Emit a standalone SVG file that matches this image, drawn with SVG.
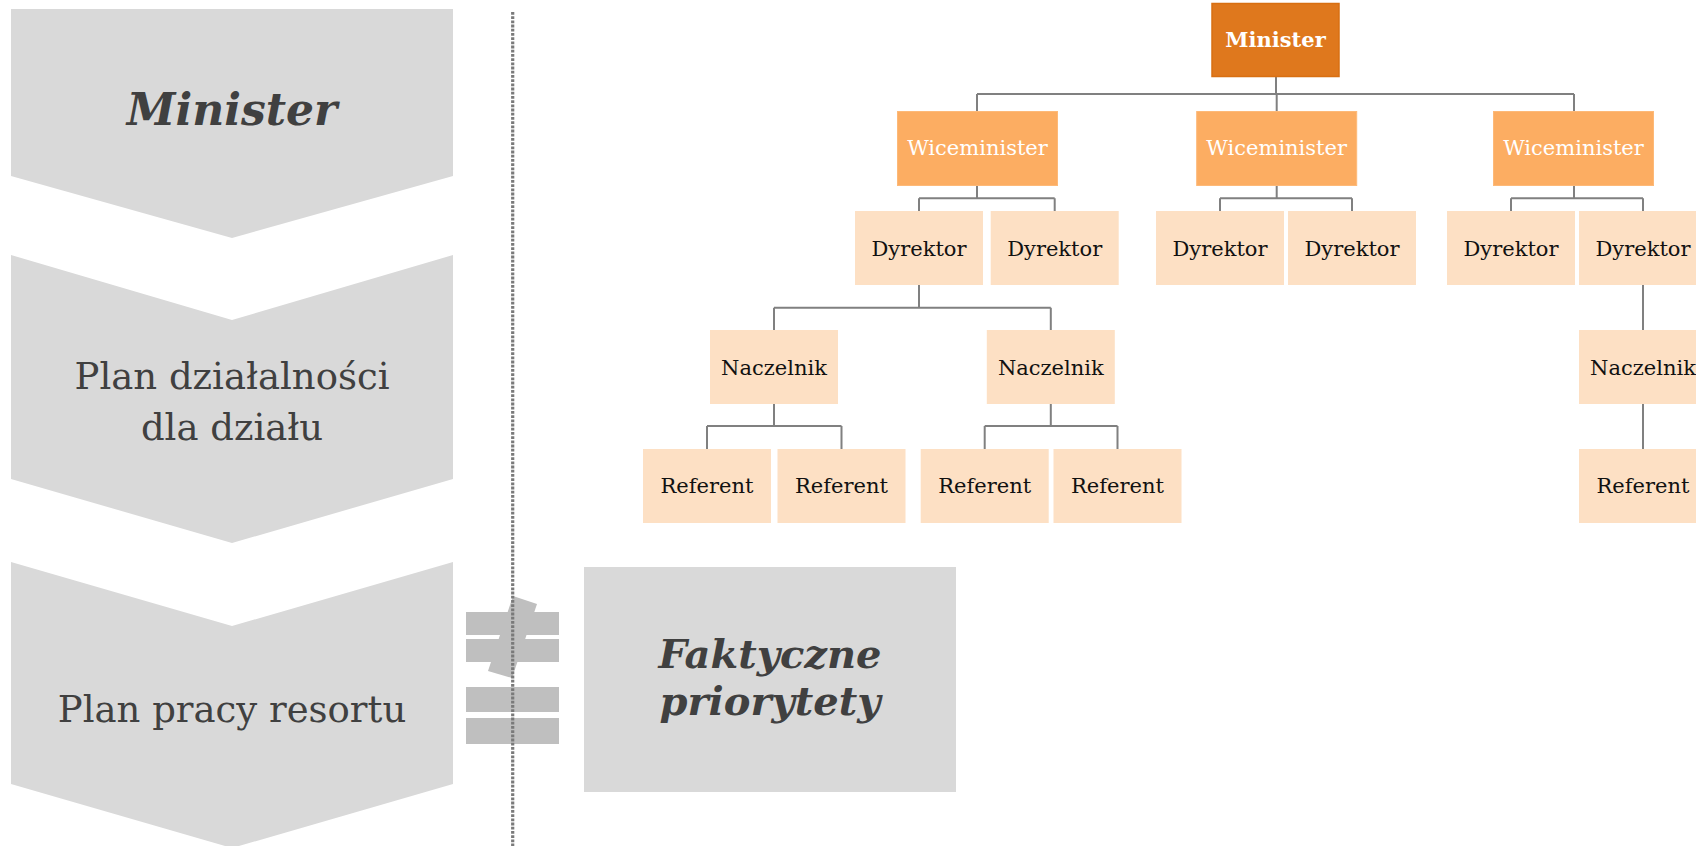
<svg xmlns="http://www.w3.org/2000/svg" width="1696" height="846" viewBox="0 0 1696 846">
  <style>
    .chev { fill: #d9d9d9; }
    .big { font-family: "DejaVu Serif", "Liberation Serif", serif; fill: #404040; text-anchor: middle; }
    .bi { font-weight: bold; font-style: italic; }
    .neq { fill: #bfbfbf; }
    .lead { fill: #df781d; stroke: #d86f12; stroke-width: 1.5; }
    .vice { fill: #fcad62; stroke: #fdb978; stroke-width: 1; }
    .staff { fill: #fde0c4; }
    .lbl { font-family: "DejaVu Serif", "Liberation Serif", serif; font-size: 21px; text-anchor: middle; fill: #111111; }
    .lbl-w { fill: #ffffff; }
    .conn { fill: none; stroke: #808080; stroke-width: 2; }
  </style>

  <!-- left column: planning chevrons -->
  <g id="chevron-minister">
    <polygon class="chev" points="11,9 453,9 453,176 232,238 11,176"/>
    <text class="big bi" x="232" y="125" font-size="44">Minister</text>
  </g>
  <g id="chevron-plan-dzialu">
    <polygon class="chev" points="11,255 232,320 453,255 453,479 232,543 11,479"/>
    <text class="big" x="232" y="389" font-size="37">Plan działalności</text>
    <text class="big" x="232" y="440" font-size="37">dla działu</text>
  </g>
  <g id="chevron-plan-resortu">
    <polygon class="chev" points="11,562 232,626 453,562 453,784 232,848 11,784"/>
    <text class="big" x="232" y="722" font-size="37">Plan pracy resortu</text>
  </g>

  <!-- not-equal sign -->
  <g id="not-equal">
    <polygon class="neq" points="513,596 537,604 512,678 488,671"/>
    <rect class="neq" x="466" y="612" width="93" height="23"/>
    <rect class="neq" x="466" y="639" width="93" height="23"/>
    <rect class="neq" x="466" y="687" width="93" height="25"/>
    <rect class="neq" x="466" y="718" width="93" height="26"/>
  </g>

  <!-- dotted divider -->
  <line id="divider" x1="512.7" y1="12" x2="512.7" y2="846" stroke="#7a7a7a" stroke-width="3.2" stroke-dasharray="2.8 1.4"/>

  <g id="faktyczne-priorytety">
    <rect class="chev" x="584" y="567" width="372" height="225"/>
    <text class="big bi" x="770" y="668" font-size="40">Faktyczne</text>
    <text class="big bi" x="770" y="715" font-size="40">priorytety</text>
  </g>

  <!-- org chart connectors -->
  <g id="connectors">
    <path class="conn" d="M1276 77 V94 M977 94 H1574 M977 94 V112 M1276.7 94 V112 M1574 94 V112"/>
    <path class="conn" d="M977 186 V198.3 M919 198.3 H1054.7 M919 198.3 V211 M1054.7 198.3 V211"/>
    <path class="conn" d="M1276.7 186 V198.3 M1220 198.3 H1352 M1220 198.3 V211 M1352 198.3 V211"/>
    <path class="conn" d="M1574 186 V198.3 M1511 198.3 H1643 M1511 198.3 V211 M1643 198.3 V211"/>
    <path class="conn" d="M919 285 V307.7 M774 307.7 H1050.8 M774 307.7 V330 M1050.8 307.7 V330"/>
    <path class="conn" d="M1643 285 V330"/>
    <path class="conn" d="M774 404 V426 M707 426 H841.5 M707 426 V449 M841.5 426 V449"/>
    <path class="conn" d="M1050.8 404 V426 M984.7 426 H1117.5 M984.7 426 V449 M1117.5 426 V449"/>
    <path class="conn" d="M1643 404 V449"/>
  </g>

  <!-- org chart nodes -->
  <g id="org-minister">
    <rect class="lead" x="1212" y="3.5" width="127" height="73"/>
    <text class="lbl lbl-w" x="1275.5" y="47" font-size="22" font-weight="bold">Minister</text>
  </g>

  <g id="wice-1"><rect class="vice" x="897.5" y="111.5" width="160" height="74"/><text class="lbl lbl-w" x="977.5" y="155">Wiceminister</text></g>
  <g id="wice-2"><rect class="vice" x="1196.7" y="111.5" width="160" height="74"/><text class="lbl lbl-w" x="1276.7" y="155">Wiceminister</text></g>
  <g id="wice-3"><rect class="vice" x="1493.5" y="111.5" width="160" height="74"/><text class="lbl lbl-w" x="1573.5" y="155">Wiceminister</text></g>

  <g id="dyr-1"><rect class="staff" x="855" y="211" width="128" height="74"/><text class="lbl" x="919" y="256">Dyrektor</text></g>
  <g id="dyr-2"><rect class="staff" x="990.7" y="211" width="128" height="74"/><text class="lbl" x="1054.7" y="256">Dyrektor</text></g>
  <g id="dyr-3"><rect class="staff" x="1156" y="211" width="128" height="74"/><text class="lbl" x="1220" y="256">Dyrektor</text></g>
  <g id="dyr-4"><rect class="staff" x="1288" y="211" width="128" height="74"/><text class="lbl" x="1352" y="256">Dyrektor</text></g>
  <g id="dyr-5"><rect class="staff" x="1447" y="211" width="128" height="74"/><text class="lbl" x="1511" y="256">Dyrektor</text></g>
  <g id="dyr-6"><rect class="staff" x="1579" y="211" width="128" height="74"/><text class="lbl" x="1643" y="256">Dyrektor</text></g>

  <g id="nacz-1"><rect class="staff" x="710" y="330" width="128" height="74"/><text class="lbl" x="774" y="375">Naczelnik</text></g>
  <g id="nacz-2"><rect class="staff" x="986.8" y="330" width="128" height="74"/><text class="lbl" x="1050.8" y="375">Naczelnik</text></g>
  <g id="nacz-3"><rect class="staff" x="1579" y="330" width="128" height="74"/><text class="lbl" x="1643" y="375">Naczelnik</text></g>

  <g id="ref-1"><rect class="staff" x="643" y="449" width="128" height="74"/><text class="lbl" x="707" y="493">Referent</text></g>
  <g id="ref-2"><rect class="staff" x="777.5" y="449" width="128" height="74"/><text class="lbl" x="841.5" y="493">Referent</text></g>
  <g id="ref-3"><rect class="staff" x="920.7" y="449" width="128" height="74"/><text class="lbl" x="984.7" y="493">Referent</text></g>
  <g id="ref-4"><rect class="staff" x="1053.5" y="449" width="128" height="74"/><text class="lbl" x="1117.5" y="493">Referent</text></g>
  <g id="ref-5"><rect class="staff" x="1579" y="449" width="128" height="74"/><text class="lbl" x="1643" y="493">Referent</text></g>
</svg>
